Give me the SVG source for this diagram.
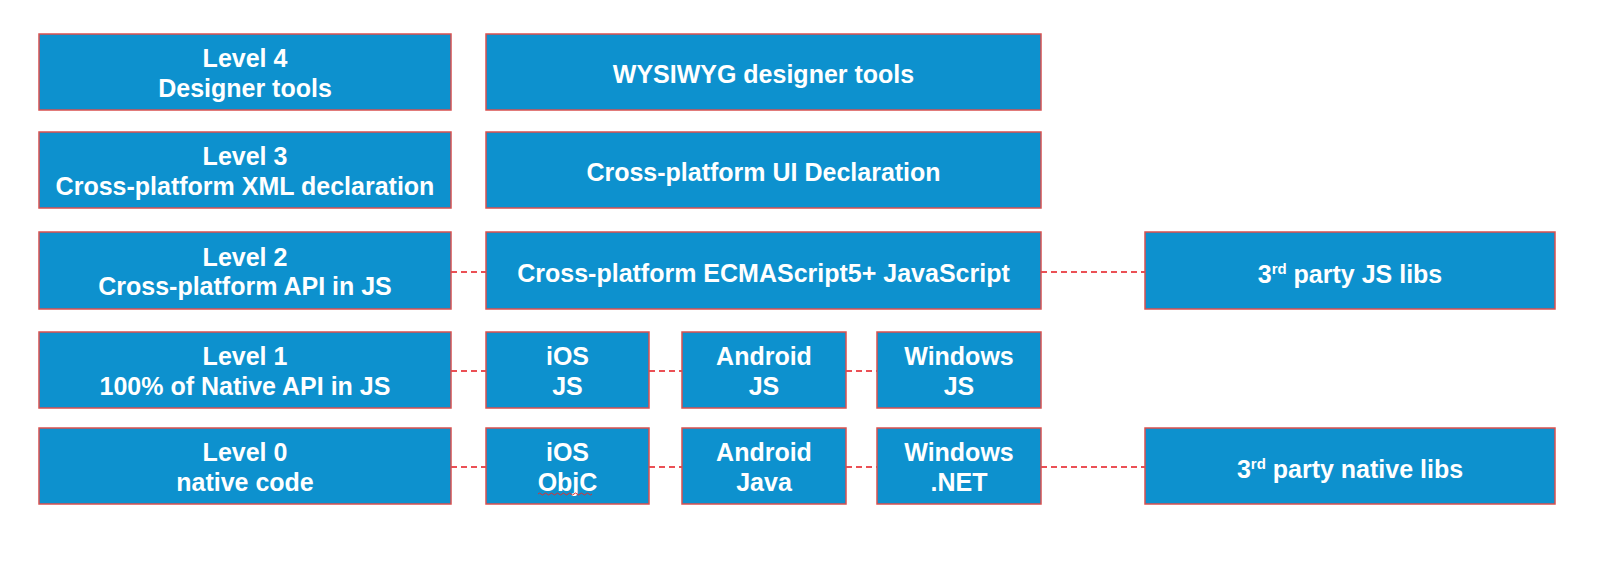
<svg xmlns="http://www.w3.org/2000/svg" width="1600" height="577" viewBox="0 0 1600 577">
<style>
.box{fill:#0D91CE;stroke:#D9504F;stroke-width:1.5}
.t{font-family:"Liberation Sans",Arial,sans-serif;font-weight:bold;font-size:25px;fill:#fff;text-anchor:middle}
.c{stroke:#EB5055;stroke-width:2;stroke-dasharray:6 4;fill:none}
.sup{font-size:15px}
</style>
<rect width="1600" height="577" fill="#fff"/>
<g id="connectors">
<line class="c" x1="451" y1="272" x2="486" y2="272"/>
<line class="c" x1="1041" y1="272" x2="1145" y2="272"/>
<line class="c" x1="451" y1="371" x2="486" y2="371"/>
<line class="c" x1="649" y1="371" x2="682" y2="371"/>
<line class="c" x1="846" y1="371" x2="877" y2="371"/>
<line class="c" x1="451" y1="467" x2="486" y2="467"/>
<line class="c" x1="649" y1="467" x2="682" y2="467"/>
<line class="c" x1="846" y1="467" x2="877" y2="467"/>
<line class="c" x1="1041" y1="467" x2="1145" y2="467"/>
</g>
<g id="level4">
<rect class="box" x="39" y="34" width="412" height="76"/>
<text class="t" x="245" y="67">Level 4</text>
<text class="t" x="245" y="96.5">Designer tools</text>
</g>
<g id="wysiwyg">
<rect class="box" x="486" y="34" width="555" height="76"/>
<text class="t" x="763.5" y="83">WYSIWYG designer tools</text>
</g>
<g id="level3">
<rect class="box" x="39" y="132" width="412" height="76"/>
<text class="t" x="245" y="165">Level 3</text>
<text class="t" x="245" y="194.5">Cross-platform XML declaration</text>
</g>
<g id="ui-declaration">
<rect class="box" x="486" y="132" width="555" height="76"/>
<text class="t" x="763.5" y="181">Cross-platform UI Declaration</text>
</g>
<g id="level2">
<rect class="box" x="39" y="232" width="412" height="77"/>
<text class="t" x="245" y="265.5">Level 2</text>
<text class="t" x="245" y="295">Cross-platform API in JS</text>
</g>
<g id="ecmascript">
<rect class="box" x="486" y="232" width="555" height="77"/>
<text class="t" x="763.5" y="282">Cross-platform ECMAScript5+ JavaScript</text>
</g>
<g id="js-libs">
<rect class="box" x="1145" y="232" width="410" height="77"/>
<text class="t" x="1350" y="282.5">3<tspan class="sup" dy="-9">rd</tspan><tspan dy="9"> party JS libs</tspan></text>
</g>
<g id="level1">
<rect class="box" x="39" y="332" width="412" height="76"/>
<text class="t" x="245" y="365">Level 1</text>
<text class="t" x="245" y="394.5">100% of Native API in JS</text>
</g>
<g id="ios-js">
<rect class="box" x="486" y="332" width="163" height="76"/>
<text class="t" x="567.5" y="365">iOS</text>
<text class="t" x="567.5" y="394.5">JS</text>
</g>
<g id="android-js">
<rect class="box" x="682" y="332" width="164" height="76"/>
<text class="t" x="764" y="365">Android</text>
<text class="t" x="764" y="394.5">JS</text>
</g>
<g id="windows-js">
<rect class="box" x="877" y="332" width="164" height="76"/>
<text class="t" x="959" y="365">Windows</text>
<text class="t" x="959" y="394.5">JS</text>
</g>
<g id="level0">
<rect class="box" x="39" y="428" width="412" height="76"/>
<text class="t" x="245" y="461">Level 0</text>
<text class="t" x="245" y="490.5">native code</text>
</g>
<g id="ios-objc">
<rect class="box" x="486" y="428" width="163" height="76"/>
<text class="t" x="567.5" y="461">iOS</text>
<text class="t" x="567.5" y="490.5">ObjC</text>
<path d="M538 494 q1.5 -2 3 0 t3 0 t3 0 t3 0 t3 0 t3 0 t3 0 t3 0 t3 0 t3 0 t3 0 t3 0 t3 0 t3 0 t3 0 t3 0 t3 0 t3 0" fill="none" stroke="#E03030" stroke-width="1"/>
</g>
<g id="android-java">
<rect class="box" x="682" y="428" width="164" height="76"/>
<text class="t" x="764" y="461">Android</text>
<text class="t" x="764" y="490.5">Java</text>
</g>
<g id="windows-net">
<rect class="box" x="877" y="428" width="164" height="76"/>
<text class="t" x="959" y="461">Windows</text>
<text class="t" x="959" y="490.5">.NET</text>
</g>
<g id="native-libs">
<rect class="box" x="1145" y="428" width="410" height="76"/>
<text class="t" x="1350" y="477.5">3<tspan class="sup" dy="-9">rd</tspan><tspan dy="9"> party native libs</tspan></text>
</g>
</svg>
